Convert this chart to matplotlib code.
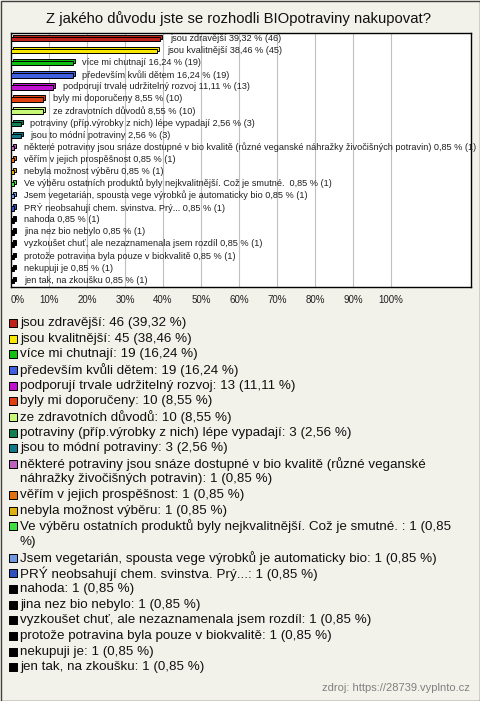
import textwrap
import matplotlib
matplotlib.use("Agg")
import matplotlib.pyplot as plt
from matplotlib.transforms import offset_copy

plt.rcParams['font.family'] = ['Liberation Sans', 'DejaVu Sans']

# data
odpovedi = [
    "jsou zdravější",
    "jsou kvalitnější",
    "více mi chutnají",
    "především kvůli dětem",
    "podporují trvale udržitelný rozvoj",
    "byly mi doporučeny",
    "ze zdravotních důvodů",
    "potraviny (příp.výrobky z nich) lépe vypadají",
    "jsou to módní potraviny",
    "některé potraviny jsou snáze dostupné v bio kvalitě (různé veganské náhražky živočišných potravin)",
    "věřím v jejich prospěšnost",
    "nebyla možnost výběru",
    "Ve výběru ostatních produktů byly nejkvalitnější. Což je smutné. ",
    "Jsem vegetarián, spousta vege výrobků je automaticky bio",
    "PRÝ neobsahují chem. svinstva. Prý...",
    "nahoda",
    "jina nez bio nebylo",
    "vyzkoušet chuť, ale nezaznamenala jsem rozdíl",
    "protože potravina byla pouze v biokvalitě",
    "nekupuji je",
    "jen tak, na zkoušku",
]
pocty = [46, 45, 19, 19, 13, 10, 10, 3, 3, 1, 1, 1, 1, 1, 1, 1, 1, 1, 1, 1, 1]
procenta = [39.32, 38.46, 16.24, 16.24, 11.11, 8.55, 8.55, 2.56, 2.56,
            0.85, 0.85, 0.85, 0.85, 0.85, 0.85, 0.85, 0.85, 0.85, 0.85, 0.85, 0.85]
barvy = ['#c0201a', '#f8e800', '#10c010', '#4060e0', '#c010d0', '#e04010',
         '#c8f878', '#108050', '#107888', '#c060c0', '#e07010', '#e0b010',
         '#40e040', '#7098e0', '#3050c0', '#000000', '#000000', '#000000',
         '#000000', '#000000', '#000000']
tiky = [0, 10, 20, 30, 40, 50, 60, 70, 80, 90, 100]

pozadi = '#f3f2ea'
W, H = 480, 701

fig = plt.figure(figsize=(4.8, 7.01), dpi=100)
fig.patch.set_facecolor(pozadi)

# graf
ax = fig.add_axes([11 / W, 1 - 287 / H, 460 / W, 254 / H])
ax.set_facecolor('white')
ax.set_xlim(0, 121.05)
ax.set_ylim(len(odpovedi) - 0.5, -0.5)
for t in tiky[1:]:
    ax.axvline(t, color='#c0c0c0', lw=0.8, zorder=0)

y = list(range(len(odpovedi)))
hloubka = offset_copy(ax.transData, fig=fig, x=2, y=2, units='dots')
ax.barh(y, procenta, height=0.36, color=barvy, edgecolor='black', lw=0.7,
        transform=hloubka, zorder=2)
ax.barh(y, procenta, height=0.36, color=barvy, edgecolor='black', lw=0.7,
        zorder=3)

for i, (txt, p, n) in enumerate(zip(odpovedi, procenta, pocty)):
    pct = f"{p:.2f}".replace('.', ',')
    ax.annotate(f"{txt} {pct} % ({n})", (p, i), xytext=(7, 0.5),
                textcoords='offset points', va='center', ha='left',
                fontsize=6.6, color='#202020', annotation_clip=False,
                zorder=4)

ax.set_xticks(tiky)
ax.set_xticklabels([f"{t}%" for t in tiky], fontsize=7, color='#202020')
ax.get_xticklabels()[0].set_horizontalalignment('left')
ax.tick_params(axis='x', length=0, pad=6)
ax.set_yticks([])
for sp in ax.spines.values():
    sp.set_color('black')
    sp.set_linewidth(1)

# ramecek
ov = fig.add_axes([0, 0, 1, 1], zorder=-1)
ov.set_xlim(0, W)
ov.set_ylim(H, 0)
ov.axis('off')
ov.add_patch(plt.Rectangle((0.5, 0.5), W - 1, H - 1, fill=False,
                           edgecolor='#404040', lw=1))

# nadpis, legenda, zdroj
ov2 = fig.add_axes([0, 0, 1, 1])
ov2.set_xlim(0, W)
ov2.set_ylim(H, 0)
ov2.axis('off')
ov2.text(W / 2 - 2, 19, "Z jakého důvodu jste se rozhodli BIOpotraviny nakupovat?",
         ha='center', va='center', fontsize=10.7, color='#101010')

radek = 15.65
yy = 323
for txt, p, n, c in zip(odpovedi, procenta, pocty, barvy):
    pct = f"{p:.2f}".replace('.', ',')
    polozka = f"{txt}: {n} ({pct} %)"
    ov2.scatter([12.5], [yy], marker='s', s=26, color=c, edgecolor='black',
                lw=0.7)
    for line in textwrap.wrap(polozka, width=74):
        ov2.text(20, yy, line, ha='left', va='center', fontsize=9.6,
                 color='#101010')
        yy += radek

ov2.text(470, 688, "zdroj: https://28739.vyplnto.cz", ha='right', va='center',
         fontsize=8, color='#808080')

fig.savefig('out.png', dpi=100, facecolor=pozadi)
